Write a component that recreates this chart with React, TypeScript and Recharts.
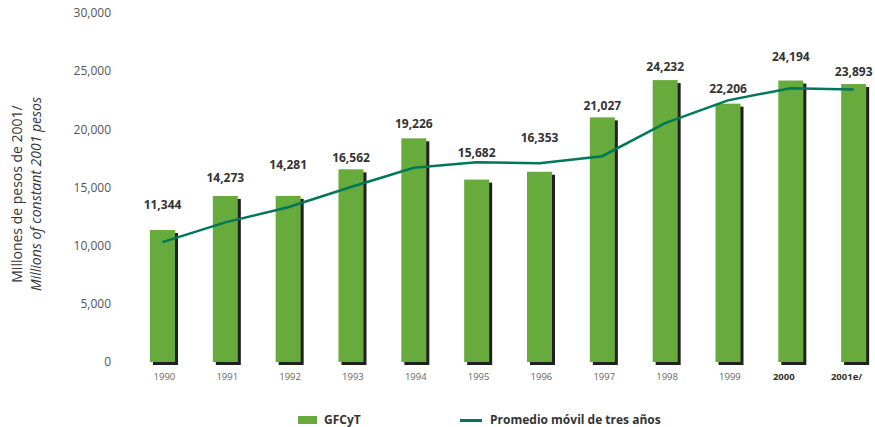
import React from 'react';
import { ComposedChart, Bar, Line, XAxis, YAxis, LabelList } from 'recharts';

const years = ['1990', '1991', '1992', '1993', '1994', '1995', '1996', '1997', '1998', '1999', '2000', '2001e/'];
const gfcyt = [11344, 14273, 14281, 16562, 19226, 15682, 16353, 21027, 24232, 22206, 24194, 23893];
const movingAvg = [10300, 12000, 13300, 15040, 16690, 17160, 17090, 17690, 20540, 22490, 23540, 23430];
const yTicks = [0, 5000, 10000, 15000, 20000, 25000, 30000];
const boldYears = ['2000', '2001e/'];

// how far above each bar its value label sits (label dodges the line)
const labelLift = [25, 18, 31, 11, 14, 27, 34, 11, 13, 15, 24, 12];

const data = years.map((year, i) => ({ year, gfcyt: gfcyt[i], avg: movingAvg[i] }));

const BAR_GREEN = '#66ab3c';
const LINE_GREEN = '#00775a';
const FONT = '"Open Sans", sans-serif';

const fmt = (v: number) => v.toLocaleString('en-US');

const ShadowBar = (props: any) => {
  const { x, y, width, height } = props;
  if (height == null || height <= 0) return null;
  return (
    <g>
      <rect x={x + 3} y={y + 3} width={width} height={height} fill="#231f20" />
      <rect x={x} y={y} width={width} height={height} fill={BAR_GREEN} />
    </g>
  );
};

const ValueLabel = (props: any) => {
  const { x, y, width, value } = props;
  let idx = props.index;
  if (idx == null) idx = gfcyt.indexOf(value);
  const lift = labelLift[idx] ?? 15;
  return (
    <text x={x + width / 2} y={y - lift + 4} textAnchor="middle" fontFamily={FONT} fontSize={12} fontWeight={700} fill="#333">
      {fmt(value)}
    </text>
  );
};

const YearTick = (props: any) => {
  const { x, y, payload } = props;
  const bold = boldYears.includes(payload.value);
  return (
    <text x={x + (bold ? -7 : 2)} y={y + 7} textAnchor="middle" fontFamily={FONT} fontSize={9.5} fontWeight={bold ? 700 : 400} fill={bold ? '#333' : '#666'}>
      {payload.value}
    </text>
  );
};

const LegendBox = () => (
  <div style={{ position: 'absolute', left: 0, top: 410, width: 875, height: 20, fontFamily: FONT, fontSize: 12, fontWeight: 700, color: '#333' }}>
    <span style={{ position: 'absolute', left: 298, top: 6, width: 19, height: 8, background: BAR_GREEN }} />
    <span style={{ position: 'absolute', left: 324, top: 1 }}>GFCyT</span>
    <span style={{ position: 'absolute', left: 460, top: 9, width: 22, height: 3, background: LINE_GREEN }} />
    <span style={{ position: 'absolute', left: 490, top: 1 }}>Promedio móvil de tres años</span>
  </div>
);

export default function App() {
  return (
    <div style={{ position: 'absolute', left: 0, top: 0, width: 875, height: 427, overflow: 'hidden', background: '#fff' }}>
      <ComposedChart width={900} height={427} data={data} margin={{ top: 13, right: 15, bottom: 35, left: 0 }}>
        <XAxis dataKey="year" axisLine={false} tickLine={false} tickSize={0} tick={<YearTick />} height={30} tickMargin={11} interval={0} />
        <YAxis
          domain={[0, 30000]}
          ticks={yTicks}
          width={131}
          axisLine={false}
          tickLine={false}
          tickSize={0}
          tickMargin={20}
          tickFormatter={fmt}
          tick={{ fill: '#555', fontSize: 12, fontFamily: FONT }}
        />
        <Bar dataKey="gfcyt" barSize={25} shape={<ShadowBar />} isAnimationActive={false}>
          <LabelList dataKey="gfcyt" content={<ValueLabel />} />
        </Bar>
        <Line dataKey="avg" type="linear" stroke={LINE_GREEN} strokeWidth={2.5} dot={false} activeDot={false} isAnimationActive={false} />
      </ComposedChart>
      <LegendBox />
      <svg width={60} height={427} style={{ position: 'absolute', left: 0, top: 0, pointerEvents: 'none' }}>
        <g transform="translate(0,194) rotate(-90)" fontFamily={FONT} fontSize={14} fill="#333" textAnchor="middle">
          <text x={0} y={22}>Millones de pesos de 2001/</text>
          <text x={0} y={41} fontStyle="italic">Millions of constant 2001 pesos</text>
        </g>
      </svg>
    </div>
  );
}
